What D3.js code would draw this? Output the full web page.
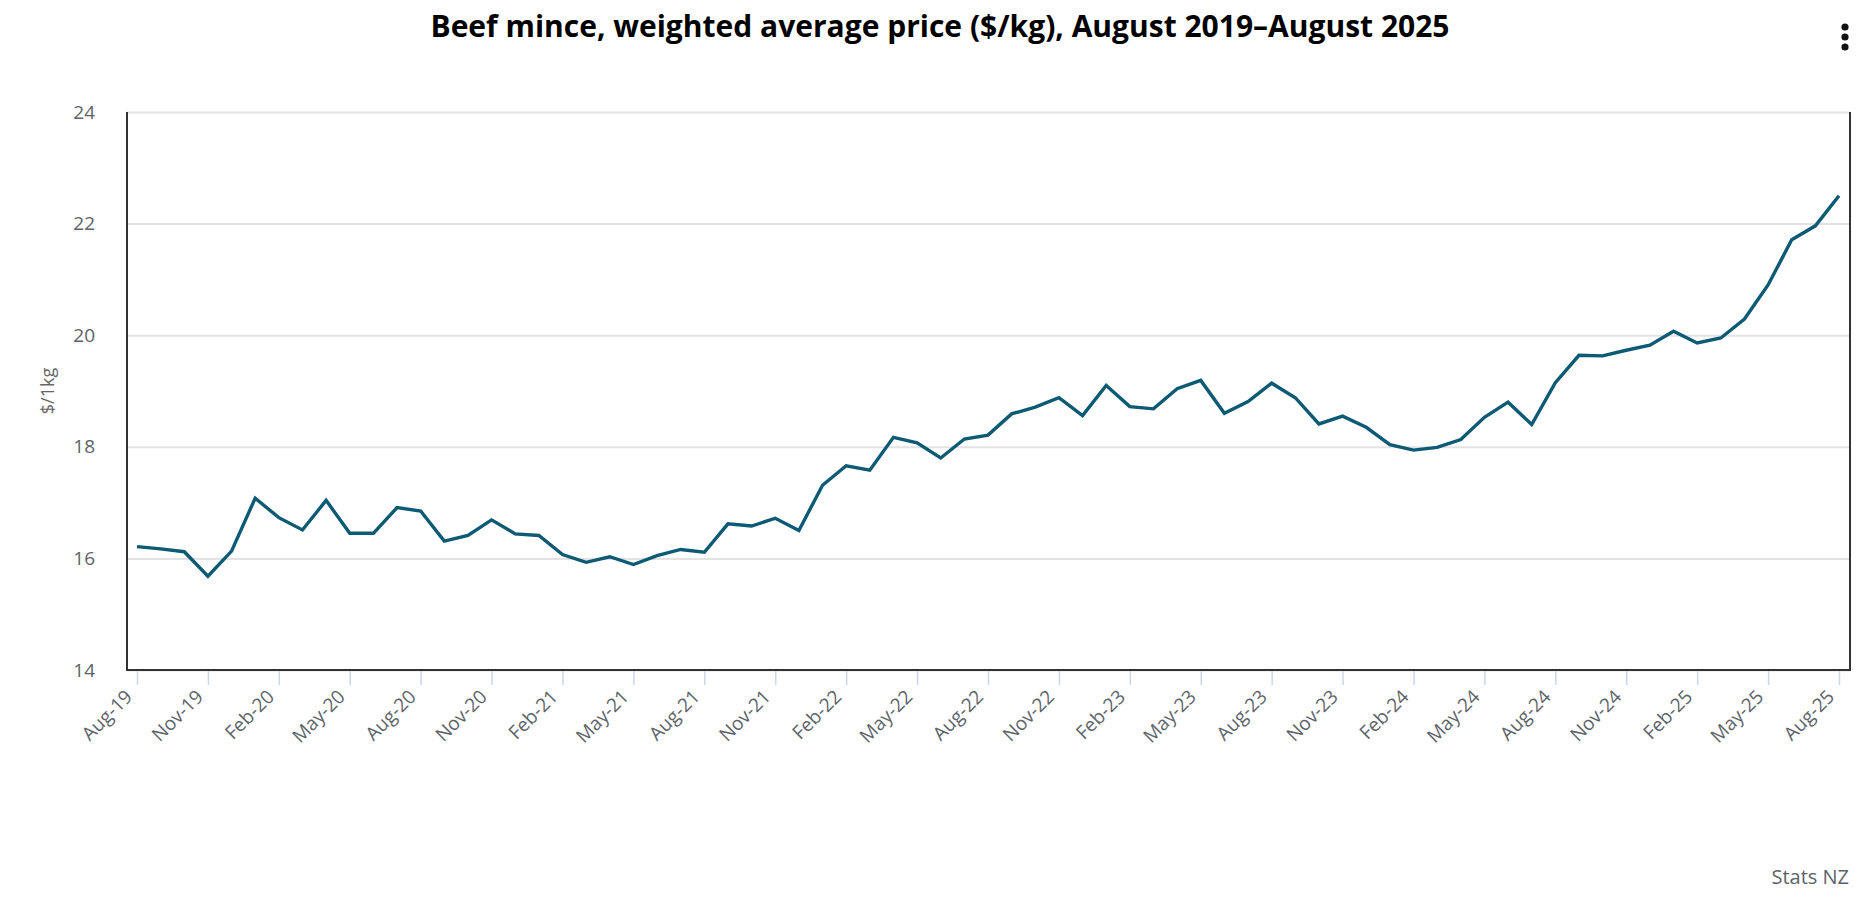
<!DOCTYPE html>
<html>
<head>
<meta charset="utf-8">
<script src="https://cdn.jsdelivr.net/npm/d3@7"></script>
<style>
  body { margin: 0; background: #fff; }
  svg { display: block; font-family: "Open Sans", Lato, sans-serif; }
</style>
</head>
<body>
<svg id="chart"></svg>
<script>
// Monthly categories, Aug 2019 to Aug 2025
const months = d3.timeMonth.range(new Date(2019, 7, 1), new Date(2025, 8, 1)).map(d3.timeFormat("%b-%y"));

// Weighted average price, $/kg
const prices = [
  16.21, 16.17, 16.12, 15.68, 16.13, 17.08, 16.73, 16.51, 17.04, 16.45, 16.45, 16.91,
  16.85, 16.31, 16.41, 16.69, 16.44, 16.41, 16.07, 15.93, 16.03, 15.89, 16.05, 16.16,
  16.11, 16.62, 16.58, 16.72, 16.50, 17.31, 17.66, 17.58, 18.17, 18.07, 17.80, 18.14,
  18.21, 18.59, 18.71, 18.88, 18.56, 19.10, 18.72, 18.68, 19.04, 19.19, 18.60, 18.81,
  19.14, 18.88, 18.41, 18.55, 18.35, 18.04, 17.94, 17.99, 18.13, 18.53, 18.80, 18.40,
  19.15, 19.64, 19.63, 19.73, 19.82, 20.07, 19.86, 19.95, 20.29, 20.90, 21.71, 21.96,
  22.50
];

// x-axis tick labels (every third month)
const tickLabels = [
  "Aug-19", "Nov-19", "Feb-20", "May-20", "Aug-20", "Nov-20", "Feb-21", "May-21",
  "Aug-21", "Nov-21", "Feb-22", "May-22", "Aug-22", "Nov-22", "Feb-23", "May-23",
  "Aug-23", "Nov-23", "Feb-24", "May-24", "Aug-24", "Nov-24", "Feb-25", "May-25", "Aug-25"
];
const yTicks = [14, 16, 18, 20, 22, 24];

const width = 1858, height = 900;
const plot = { left: 127, right: 1850, top: 112, bottom: 670 };
const textGrey = "#5d6369";

const svg = d3.select("#chart")
  .attr("width", width)
  .attr("height", height);

// Scales
const x = d3.scalePoint()
  .domain(months)
  .range([plot.left + 10, plot.right - 11]);

const y = d3.scaleLinear()
  .domain([14, 24])
  .range([plot.bottom, plot.top]);

// Title
svg.append("text")
  .attr("x", 940)
  .attr("y", 37)
  .attr("text-anchor", "middle")
  .style("font-size", "30px")
  .style("font-weight", 700)
  .style("fill", "#000")
  .text("Beef mince, weighted average price ($/kg), August 2019\u2013August 2025");

// Menu dots
svg.append("g")
  .selectAll("circle")
  .data([0, 1, 2])
  .enter().append("circle")
  .attr("cx", 1845)
  .attr("cy", d => 27 + d * 10)
  .attr("r", 3.6)
  .attr("fill", "#111");

// Gridlines
svg.append("g")
  .attr("transform", "translate(" + plot.left + ",0)")
  .call(d3.axisLeft(y).tickValues(yTicks).tickSize(-(plot.right - plot.left)).tickFormat(""))
  .call(g => g.select(".domain").remove())
  .call(g => g.selectAll("line").attr("stroke", "#e3e3e3").attr("stroke-width", 2));

// y-axis labels
svg.append("g")
  .attr("transform", "translate(" + plot.left + ",0)")
  .call(d3.axisLeft(y).tickValues(yTicks).tickSize(0).tickPadding(32))
  .call(g => g.select(".domain").remove())
  .call(g => g.selectAll("text")
    .style("font-family", "'Open Sans', sans-serif")
    .style("font-size", "19px")
    .attr("fill", textGrey));

// y-axis title
svg.append("text")
  .attr("transform", "translate(48," + (plot.top + plot.bottom) / 2 + ") rotate(-90)")
  .attr("text-anchor", "middle")
  .attr("dy", "0.35em")
  .style("font-size", "18px")
  .style("fill", "#666")
  .text("$/1kg");

// x-axis ticks and labels
const xAxis = svg.append("g")
  .attr("transform", "translate(0," + plot.bottom + ")")
  .call(d3.axisBottom(x).tickValues(tickLabels).tickSize(15));

xAxis.select(".domain").remove();
xAxis.selectAll(".tick line")
  .attr("stroke", "#ccd6eb")
  .attr("stroke-width", 1.5);
xAxis.selectAll(".tick text")
  .style("font-family", "'Open Sans', sans-serif")
  .style("font-size", "19px")
  .attr("fill", textGrey)
  .attr("text-anchor", "end")
  .attr("x", 0)
  .attr("y", 0)
  .attr("dy", 0)
  .attr("transform", "translate(-4,28) rotate(-45)");

// Frame: left, bottom and right lines
svg.append("line")
  .attr("x1", plot.left).attr("x2", plot.left)
  .attr("y1", plot.top).attr("y2", plot.bottom + 1)
  .attr("stroke", "#333").attr("stroke-width", 2);
svg.append("line")
  .attr("x1", plot.left).attr("x2", plot.right)
  .attr("y1", plot.bottom).attr("y2", plot.bottom)
  .attr("stroke", "#333").attr("stroke-width", 2);
svg.append("line")
  .attr("x1", plot.right).attr("x2", plot.right)
  .attr("y1", plot.top).attr("y2", plot.bottom + 1)
  .attr("stroke", "#333").attr("stroke-width", 2);

// Price line
const line = d3.line()
  .x((d, i) => x(months[i]))
  .y(d => y(d));

svg.append("path")
  .datum(prices)
  .attr("fill", "none")
  .attr("stroke", "#0c5a73")
  .attr("stroke-width", 3.4)
  .attr("stroke-linejoin", "miter")
  .attr("d", line);

// Credit
svg.append("text")
  .attr("x", 1849)
  .attr("y", 884)
  .attr("text-anchor", "end")
  .style("font-size", "20px")
  .style("fill", textGrey)
  .text("Stats NZ");
</script>
</body>
</html>
